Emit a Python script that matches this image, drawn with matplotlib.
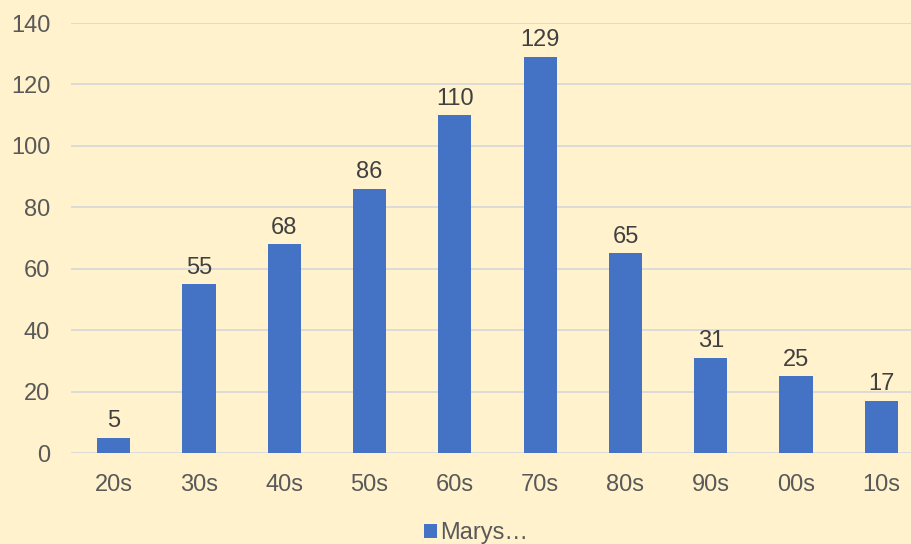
import numpy as np
import matplotlib.pyplot as plt
from matplotlib.patches import Patch

# 数据
decades = ['20s', '30s', '40s', '50s', '60s', '70s', '80s', '90s', '00s', '10s']
counts = [5, 55, 68, 86, 110, 129, 65, 31, 25, 17]
series_name = 'Marys…'

bg = '#FFF2CC'
bar_color = '#4472C4'
grid_color = '#D9D9D9'
text_color = '#595959'

plt.rcParams['font.family'] = ['Liberation Sans', 'DejaVu Sans']

fig = plt.figure(figsize=(9.12, 5.44), dpi=100)
fig.patch.set_facecolor(bg)

W, H = 912, 544
left, right = 71, 924
top, bottom = 23, 453
ax = fig.add_axes([left / W, 1 - bottom / H, (right - left) / W, (bottom - top) / H])
ax.set_facecolor(bg)

x = np.arange(len(decades))
bars = ax.bar(x, counts, width=0.39, color=bar_color, zorder=3)

for xi, v in zip(x, counts):
    ax.annotate(str(v), (xi, v), xytext=(0, 4), textcoords='offset points',
                ha='center', va='bottom', fontsize=17, color='#404040')

ax.set_xlim(-0.5, len(decades) - 0.5)
ax.set_ylim(0, 140)
ax.set_yticks(range(0, 141, 20))
ax.set_xticks(x)
ax.set_xticklabels(decades)
ax.tick_params(axis='both', length=0, labelsize=17, colors=text_color)
ax.tick_params(axis='y', pad=15)
ax.tick_params(axis='x', pad=15)

ax.grid(axis='y', color=grid_color, linewidth=1.3, zorder=0)
for s in ax.spines.values():
    s.set_visible(False)

handle = Patch(facecolor=bar_color, edgecolor='none')
fig.legend([handle], [series_name], loc='center', bbox_to_anchor=(476 / W, 1 - 533 / H),
           frameon=False, fontsize=17, labelcolor=text_color, handlelength=0.55,
           handleheight=0.55, handletextpad=0.15)

fig.savefig('out.png', dpi=100, facecolor=bg)
